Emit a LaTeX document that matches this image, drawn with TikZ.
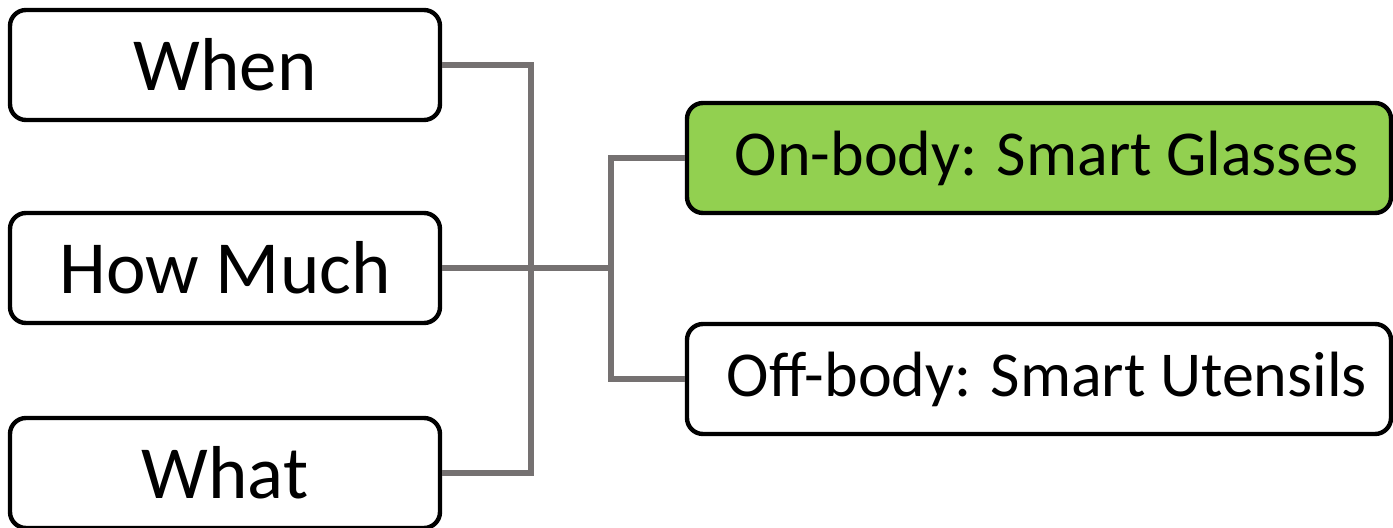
\documentclass[tikz,border=0pt]{standalone}
\usepackage{fontspec}
\setmainfont{Carlito}
\usepackage{tikz}
\definecolor{linkgray}{RGB}{117,113,113}
\definecolor{glassgreen}{RGB}{146,208,80}

\begin{document}
\begin{tikzpicture}[x=0.5pt, y=-0.5pt,
                box/.style={draw, line width=2.2pt, rounded corners=8pt, inner sep=0pt},
                askbox/.style={box, minimum width=215pt, minimum height=55pt, font=\fontsize{37.5}{37.5}\selectfont},
                devbox/.style={box, minimum width=352pt, minimum height=55pt, font=\fontsize{32}{32}\selectfont},
                link/.style={draw=linkgray, line width=3.4pt}]
                \useasboundingbox (0,0) rectangle (1393,528);
                \node [askbox] (when) at (225,65) {When};
                \node [askbox] (howmuch) at (225,268) {How Much};
                \node [askbox] (what) at (225,473) {What};
                \node [devbox, fill=glassgreen] (glasses) at (1039,158) {\hspace*{8pt}On-body: Smart Glasses};
                \node [devbox] (utensils) at (1039,379) {\hspace*{8pt}Off-body: Smart Utensils};
                \coordinate (leftbus) at (531,0);
                \coordinate (rightbus) at (611,0);
                \draw [link] (when.east) -- (when.east -| leftbus) 
                -- (what.east -| leftbus) -- (what.east);
                \draw [link] (howmuch.east) -- (howmuch.east -| rightbus);
                \draw [link] (glasses.west) -- (glasses.west -| rightbus) 
                -- (utensils.west -| rightbus) -- (utensils.west);
            \end{tikzpicture}
\end{document}
